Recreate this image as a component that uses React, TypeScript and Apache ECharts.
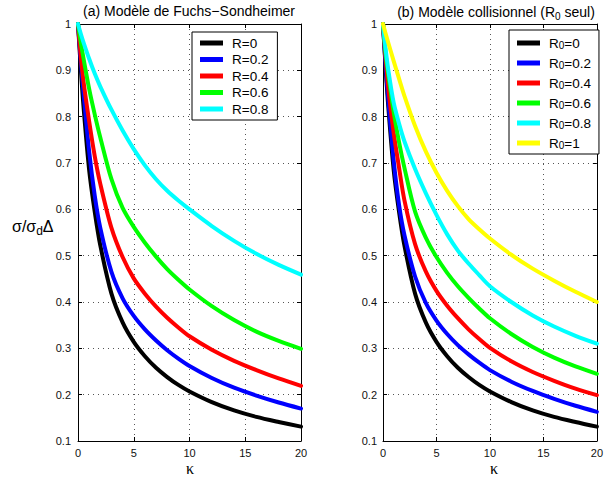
import React, { useEffect, useRef } from "react";
import * as echarts from "echarts";

// kappa sample points (x values)
const kappa = [0, 0.25, 0.5, 1, 1.5, 2, 3, 4, 5, 6, 7, 8, 9, 10, 12, 14, 16, 18, 20];

// (a) Fuchs-Sondheimer model
const fsLabels = ["R=0", "R=0.2", "R=0.4", "R=0.6", "R=0.8"];
const fsR00 = [1, 0.905, 0.82, 0.685, 0.595, 0.522, 0.418, 0.356, 0.314, 0.283, 0.258, 0.238, 0.221, 0.207, 0.184, 0.166, 0.152, 0.141, 0.131];
const fsR02 = [1, 0.92, 0.85, 0.725, 0.63, 0.56, 0.465, 0.408, 0.37, 0.341, 0.317, 0.296, 0.278, 0.262, 0.236, 0.215, 0.198, 0.183, 0.17];
const fsR04 = [1, 0.93, 0.875, 0.79, 0.715, 0.655, 0.56, 0.497, 0.451, 0.418, 0.39, 0.366, 0.345, 0.326, 0.297, 0.273, 0.253, 0.235, 0.219];
const fsR06 = [1, 0.96, 0.925, 0.86, 0.805, 0.755, 0.665, 0.603, 0.562, 0.528, 0.498, 0.471, 0.448, 0.427, 0.391, 0.361, 0.336, 0.316, 0.299];
const fsR08 = [1, 0.979, 0.96, 0.925, 0.893, 0.865, 0.815, 0.77, 0.73, 0.695, 0.665, 0.64, 0.619, 0.6, 0.564, 0.532, 0.504, 0.48, 0.459];

// (b) Collisional model (R0 only)
const colLabels = ["R0=0", "R0=0.2", "R0=0.4", "R0=0.6", "R0=0.8", "R0=1"];
const colR00 = [1, 0.905, 0.82, 0.685, 0.595, 0.522, 0.418, 0.356, 0.314, 0.283, 0.258, 0.238, 0.221, 0.207, 0.184, 0.166, 0.152, 0.141, 0.131];
const colR02 = [1, 0.91, 0.835, 0.705, 0.61, 0.545, 0.455, 0.398, 0.36, 0.331, 0.307, 0.287, 0.269, 0.253, 0.228, 0.208, 0.191, 0.176, 0.163];
const colR04 = [1, 0.925, 0.86, 0.765, 0.69, 0.62, 0.525, 0.466, 0.424, 0.392, 0.365, 0.341, 0.32, 0.301, 0.272, 0.249, 0.23, 0.213, 0.199];
const colR06 = [1, 0.935, 0.89, 0.81, 0.745, 0.69, 0.595, 0.539, 0.497, 0.463, 0.434, 0.409, 0.386, 0.365, 0.331, 0.303, 0.28, 0.261, 0.245];
const colR08 = [1, 0.945, 0.9, 0.83, 0.785, 0.747, 0.687, 0.635, 0.588, 0.546, 0.511, 0.483, 0.458, 0.434, 0.4, 0.371, 0.347, 0.327, 0.31];
const colR10 = [1, 0.979, 0.959, 0.92, 0.882, 0.845, 0.78, 0.725, 0.679, 0.64, 0.607, 0.579, 0.557, 0.537, 0.502, 0.472, 0.446, 0.422, 0.4];

const colors = ["#000000", "#0000ff", "#ff0000", "#00ff00", "#00ffff", "#ffff00"];

const titleA = "(a) Modèle de Fuchs−Sondheimer";
const titleB = "(b) Modèle collisionnel (R{s|0} seul)";
const xName = "κ";

const FONT = "'Liberation Sans', Arial, Helvetica, sans-serif";
const SERIF = "'Liberation Serif', 'DejaVu Serif', serif";

export default function App() {
  const ref = useRef<HTMLDivElement>(null);

  useEffect(() => {
    if (!ref.current) return;
    const chart = echarts.init(ref.current, undefined, { renderer: "svg" });

    const fsSets = [fsR00, fsR02, fsR04, fsR06, fsR08];
    const colSets = [colR00, colR02, colR04, colR06, colR08, colR10];

    const mkSeries = (name: string, vals: number[], i: number, axis: number) => ({
      name,
      type: "line",
      xAxisIndex: axis,
      yAxisIndex: axis,
      data: kappa.map((k, j) => [k, vals[j]]),
      showSymbol: false,
      symbol: "none",
      smooth: 0.3,
      color: colors[i],
      lineStyle: { width: 4, color: colors[i], join: "round", cap: "round" },
      z: 2 + i,
    });

    const grids = [
      { left: 78, top: 24, width: 223, height: 417 },
      { left: 383, top: 24, width: 222, height: 417 },
    ];

    const gridLine = { show: true, lineStyle: { color: "#555", width: 1, type: [1, 4] as any } };
    const tickIn = { show: true, inside: true, length: 4, lineStyle: { color: "#000" } };
    const axLine = { show: true, onZero: false, lineStyle: { color: "#000", width: 1 } };
    const lblStyle = { color: "#111", fontSize: 11, fontFamily: FONT };

    const xAxes: any[] = [];
    const yAxes: any[] = [];
    [0, 1].forEach((g) => {
      xAxes.push({
        type: "value",
        gridIndex: g,
        position: "bottom",
        min: 0,
        max: 20,
        interval: 5,
        axisLine: axLine,
        axisTick: tickIn,
        axisLabel: { ...lblStyle, margin: 6 },
        splitLine: gridLine,
      });
      xAxes.push({
        type: "value",
        gridIndex: g,
        position: "top",
        min: 0,
        max: 20,
        interval: 5,
        axisLine: axLine,
        axisTick: tickIn,
        axisLabel: { show: false },
        splitLine: { show: false },
      });
      yAxes.push({
        type: "value",
        gridIndex: g,
        position: "left",
        min: 0.1,
        max: 1,
        interval: 0.1,
        axisLine: axLine,
        axisTick: tickIn,
        axisLabel: {
          ...lblStyle,
          margin: g === 0 ? 7 : 6,
          formatter: (v: number) => String(+v.toFixed(1)),
        },
        splitLine: gridLine,
      });
      yAxes.push({
        type: "value",
        gridIndex: g,
        position: "right",
        min: 0.1,
        max: 1,
        interval: 0.1,
        axisLine: axLine,
        axisTick: tickIn,
        axisLabel: { show: false },
        splitLine: { show: false },
      });
    });
    const series: any[] = [
      ...fsSets.map((vals, i) => mkSeries(fsLabels[i], vals, i, 0)),
      ...colSets.map((vals, i) => mkSeries(colLabels[i], vals, i, 2)),
    ];

    const legendCommon = {
      orient: "vertical",
      icon: "rect",
      itemWidth: 23,
      itemHeight: 5,
      backgroundColor: "#ffffff",
      borderColor: "#000",
      borderWidth: 1,
      borderRadius: 0,
      selectedMode: false,
    };

    const option: any = {
      animation: false,
      backgroundColor: "#ffffff",
      grid: grids,
      xAxis: xAxes,
      yAxis: yAxes,
      legend: [
        {
          ...legendCommon,
          data: fsLabels,
          left: 192,
          top: 32,
          itemGap: 2.5,
          padding: [4, 9, 4, 8],
          textStyle: { fontSize: 13.5, fontFamily: FONT, color: "#000", padding: [0, 0, 0, 4] },
        },
        {
          ...legendCommon,
          data: colLabels,
          left: 509,
          top: 30,
          itemGap: 3,
          padding: [3, 8, 4, 8],
          formatter: (name: string) => "{t|R}{s|0}{t|" + name.slice(2) + "}",
          textStyle: {
            fontSize: 13.5,
            fontFamily: FONT,
            color: "#000",
            padding: [0, 0, 0, 4],
            rich: {
              t: { fontSize: 13.5, fontFamily: FONT, color: "#000", lineHeight: 14, verticalAlign: "top" },
              s: { fontSize: 10, fontFamily: FONT, color: "#000", lineHeight: 10, verticalAlign: "bottom", padding: [7, 0, 0, 0] },
            },
          },
        },
      ],
      graphic: [
        {
          type: "text",
          x: 189,
          y: 11,
          style: {
            text: titleA,
            fill: "#000",
            fontSize: 14,
            fontFamily: FONT,
            align: "center",
            textAlign: "center",
            verticalAlign: "middle",
            textVerticalAlign: "middle",
          },
        },
        {
          type: "text",
          x: 496,
          y: 12,
          style: {
            text: titleB,
            fill: "#000",
            fontSize: 14,
            fontFamily: FONT,
            align: "center",
            textAlign: "center",
            verticalAlign: "middle",
            textVerticalAlign: "middle",
            rich: {
              s: { fontSize: 10, fontFamily: FONT, fill: "#000", padding: [8, 0, 0, 0], verticalAlign: "bottom" },
            },
          },
        },
        {
          type: "text",
          x: 12,
          y: 226,
          style: {
            text: "σ/σ{s|d}Δ",
            fill: "#000",
            fontSize: 16,
            fontFamily: FONT,
            align: "left",
            textAlign: "left",
            verticalAlign: "middle",
            textVerticalAlign: "middle",
            rich: {
              s: { fontSize: 12, fontFamily: FONT, fill: "#000", padding: [9, 0, 0, 0], verticalAlign: "bottom" },
            },
          },
        },
        {
          type: "text",
          x: 190,
          y: 468,
          style: {
            text: xName,
            fill: "#000",
            fontSize: 16,
            fontFamily: SERIF,
            align: "center",
            textAlign: "center",
            verticalAlign: "middle",
            textVerticalAlign: "middle",
          },
        },
        {
          type: "text",
          x: 494,
          y: 468,
          style: {
            text: xName,
            fill: "#000",
            fontSize: 16,
            fontFamily: SERIF,
            align: "center",
            textAlign: "center",
            verticalAlign: "middle",
            textVerticalAlign: "middle",
          },
        },
      ],
      series,
    };

    chart.setOption(option);
    return () => chart.dispose();
  }, []);

  return (
    <div
      ref={ref}
      style={{ position: "fixed", left: 0, top: 0, width: 606, height: 480, background: "#fff" }}
    />
  );
}
